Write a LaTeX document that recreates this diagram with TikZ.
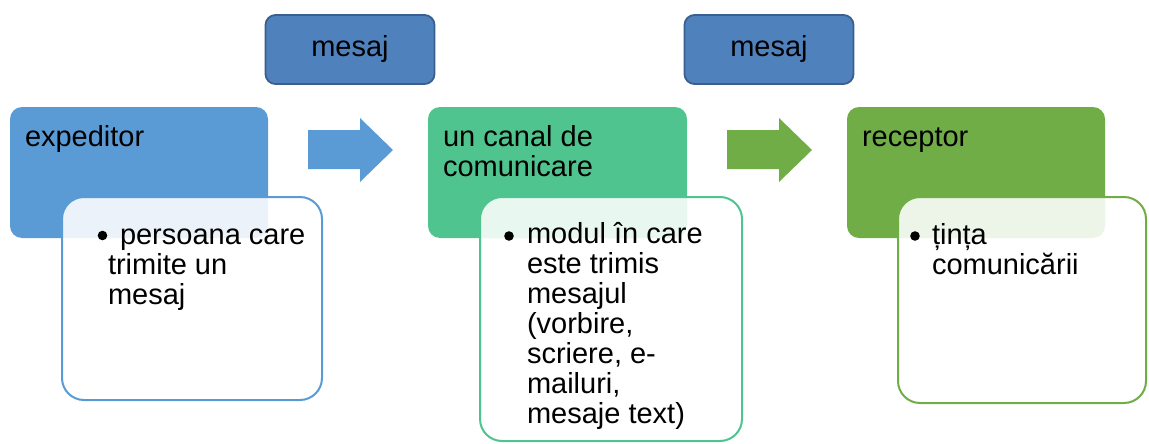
\documentclass[tikz,border=0pt]{standalone}
\usepackage{fontspec}
\setmainfont{Liberation Sans}
\definecolor{cblue}{HTML}{5B9BD5}
\definecolor{cteal}{HTML}{4FC48F}
\definecolor{cgreen}{HTML}{70AD47}
\definecolor{mfill}{HTML}{4F81BD}
\definecolor{mdraw}{HTML}{3A5F8F}
\begin{document}
\begin{tikzpicture}[x=1pt,y=-1pt,
  every node/.style={inner sep=0pt,outer sep=0pt},
  txt/.style={font=\fontsize{29}{30}\selectfont, anchor=base west, text=black},
  dot/.style={circle, fill=black, minimum size=9.6pt},
  mainbox/.style={rounded corners=12pt, minimum height=131pt},
  subbox/.style={draw=#1, line width=2pt, fill=white, fill opacity=0.88, text opacity=1, rounded corners=22pt},
  msgbox/.style={draw=mdraw, line width=1.8pt, fill=mfill, rounded corners=10pt, minimum width=169pt, minimum height=69pt, font=\fontsize{29}{30}\selectfont}
]
\useasboundingbox (0,0) rectangle (1149,444);

% main boxes
\node[mainbox, fill=cblue,  minimum width=258pt] (b1) at (139,172.5) {};
\node[mainbox, fill=cteal,  minimum width=259pt] (b2) at (557.5,172.5) {};
\node[mainbox, fill=cgreen, minimum width=258pt] (b3) at (976,172.5) {};

% sub boxes
\node[subbox=cblue,  minimum width=260pt, minimum height=203pt] (s1) at (192,298.5) {};
\node[subbox=cteal,  minimum width=262pt, minimum height=244pt] (s2) at (611,319) {};
\node[subbox=cgreen, minimum width=248pt, minimum height=206pt] (s3) at (1022,300) {};

% arrows
\fill[cblue] (308,130) -- (360,130) -- (360,118) -- (393,150) -- (360,182) -- (360,169) -- (308,169) -- cycle;
\fill[cgreen] (727,130) -- (779,130) -- (779,118) -- (812,150) -- (779,182) -- (779,169) -- (727,169) -- cycle;

% message boxes
\node[msgbox] (m1) at (350,49.5) {mesaj};
\node[msgbox] (m2) at (769,49.5) {mesaj};

% titles
\node[txt] (t1) at (25,146) {expeditor};
\node[txt] (t2) at (443,146) {\parbox[t]{240pt}{\raggedright un canal de\\comunicare}};
\node[txt] (t3) at (862,146) {receptor};

% bullets
\node[dot] (d1) at (102.5,235.5) {};
\node[txt] (l1) at (108,244) {\parbox[t]{210pt}{\raggedright\hspace*{12pt}persoana care\\trimite un\\mesaj}};
\node[dot] (d2) at (509,236) {};
\node[txt] (l2) at (527,243) {\parbox[t]{210pt}{\raggedright modul în care\\este trimis\\mesajul\\(vorbire,\\scriere, e-\\mailuri,\\mesaje text)}};
\node[dot] (d3) at (915,236) {};
\node[txt] (l3) at (932,244) {\parbox[t]{210pt}{\raggedright țința\\comunicării}};
\end{tikzpicture}
\end{document}
